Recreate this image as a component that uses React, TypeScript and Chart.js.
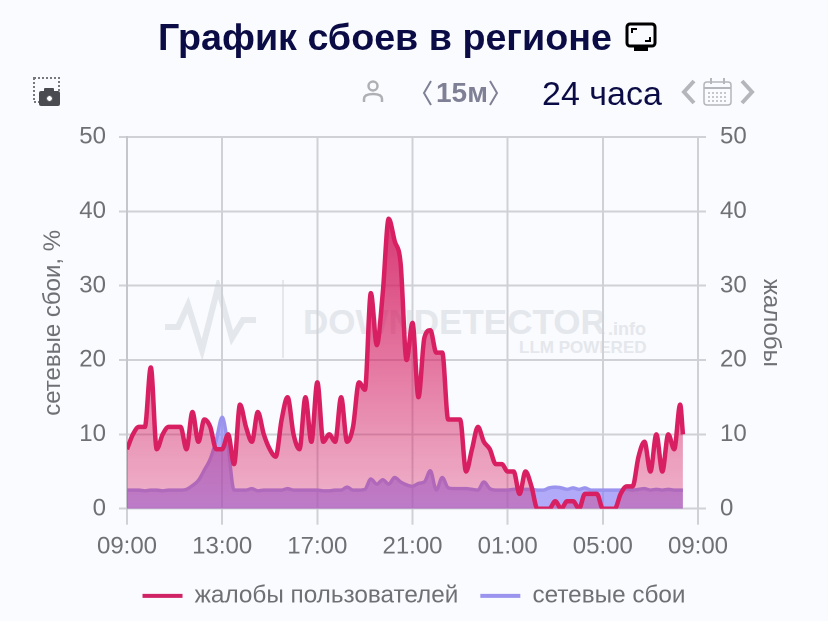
import React, { useEffect, useRef } from "react";
import { Chart, registerables } from "chart.js";

Chart.register(...registerables);

const minutes = [0,15,30,45,60,75,90,105,120,135,150,165,180,195,210,225,240,255,270,285,300,315,330,345,360,375,390,405,420,435,450,465,480,495,510,525,540,555,570,585,600,615,630,645,660,675,690,705,720,735,750,765,780,795,810,825,840,855,870,885,900,915,930,945,960,975,990,1005,1020,1035,1050,1065,1080,1095,1110,1125,1140,1155,1170,1185,1200,1215,1230,1245,1260,1275,1290,1305,1320,1335,1350,1365,1380,1395,1402];
const complaints = [8,10,11,11,19,8,10,11,11,11,8,13,9,12,11,8,8,10,6,14,11,9,13,10,8,7,12,15,10,8,15,9,17,9,10,9,15,9,11,17,16,29,22,29,39,36,33,20,25,15,23,24,21,21,12,12,12,5,8,11,9,8,6,6,5,5,2,5,3,0,0,0,1,0,1,1,0,2,2,2,0,0,0,2,3,3,7,9,5,10,5,10,8,14,10];
const outages = [2.5,2.5,2.5,2.4,2.5,2.5,2.4,2.5,2.5,2.5,2.6,3.1,3.8,5.2,6.7,9.2,12.3,8.3,2.5,2.5,2.5,2.7,2.4,2.5,2.5,2.5,2.5,2.7,2.5,2.5,2.5,2.5,2.5,2.4,2.4,2.5,2.5,2.9,2.5,2.5,2.6,4,3.3,3.9,3.3,4.2,3.6,3.2,3,3.4,3.6,5.1,2.5,4.2,2.8,2.7,2.7,2.7,2.6,2.5,3.6,2.7,2.5,2.5,2.5,2.6,2.6,2.6,2.6,2.5,2.5,2.8,2.9,2.8,2.6,2.8,2.6,2.8,2.5,2.5,2.5,2.5,2.5,2.5,2.6,2.5,2.6,2.7,2.5,2.6,2.5,2.6,2.5,2.5,2.5];
const hourLabels = ["09:00","13:00","17:00","21:00","01:00","05:00","09:00"];
const seriesNames = ["жалобы пользователей","сетевые сбои"];

const FONT = '"Liberation Sans", Arial, sans-serif';
const GREY = "#6f7075";
const RED = "#d81f62";
const BLUE = "#9a94ee";

export default function App() {
  const ref = useRef<HTMLCanvasElement>(null);
  useEffect(() => {
    const chart = new Chart(ref.current as HTMLCanvasElement, {
      type: "line",
      data: {
        datasets: [
          {
            label: seriesNames[0],
            data: minutes.map((m, i) => ({ x: m, y: complaints[i] })),
            yAxisID: "yR",
            borderColor: RED,
            borderWidth: 4.5,
            pointRadius: 0,
            cubicInterpolationMode: "monotone",
            fill: "origin",
            order: 1,
            backgroundColor: (c: any) => {
              const a = c.chart.chartArea;
              if (!a) return "rgba(216,31,98,.4)";
              const g = c.chart.ctx.createLinearGradient(0, a.top, 0, a.bottom);
              g.addColorStop(0, "rgba(208,20,90,1)");
              g.addColorStop(1, "rgba(216,31,98,.32)");
              return g;
            },
          },
          {
            label: seriesNames[1],
            data: minutes.map((m, i) => ({ x: m, y: outages[i] })),
            yAxisID: "yL",
            borderColor: BLUE,
            borderWidth: 3.5,
            pointRadius: 0,
            cubicInterpolationMode: "monotone",
            fill: "origin",
            order: 2,
            backgroundColor: "rgba(130,120,245,.62)",
          },
        ],
      },
      options: {
        animation: false,
        responsive: false,
        devicePixelRatio: 2,
        layout: { padding: { top: 137, bottom: 3, left: 0, right: 0 } },
        plugins: {
          tooltip: { enabled: false },
          legend: {
            position: "bottom",
            labels: {
              boxWidth: 40,
              boxHeight: 4,
              padding: 22,
              color: GREY,
              font: { family: FONT, size: 24.3 },
              generateLabels: () =>
                seriesNames.map((t, i) => ({
                  text: t,
                  fillStyle: i === 0 ? "#cf2365" : BLUE,
                  strokeStyle: "transparent",
                  lineWidth: 0,
                  fontColor: GREY,
                  datasetIndex: i,
                })),
            },
          },
        },
        scales: {
          x: {
            type: "linear",
            min: 0,
            max: 1440,
            afterBuildTicks: (s: any) => {
              s.ticks = hourLabels.map((_, i) => ({ value: i * 240 }));
            },
            afterFit: (s: any) => { s.height = 53; },
            grid: { color: "#cfd1d7", lineWidth: 2, tickLength: 16 },
            border: { color: "#cfd1d7", width: 2 },
            ticks: {
              color: GREY,
              font: { family: FONT, size: 24 },
              maxRotation: 0,
              autoSkip: false,
              padding: 8,
              callback: (_: any, i: number) => hourLabels[i],
            },
          },
          yL: {
            position: "left",
            min: 0,
            max: 50,
            afterFit: (s: any) => { s.width = 127; },
            title: { display: true, text: "сетевые сбои, %", color: GREY, font: { family: FONT, size: 24 }, padding: { top: 39, bottom: 0 } },
            grid: { color: "#cfd1d7", lineWidth: 2, tickLength: 8 },
            border: { color: "#c4c6cc", width: 2 },
            ticks: { stepSize: 10, color: GREY, font: { family: FONT, size: 24 }, padding: 13 },
          },
          yR: {
            position: "right",
            min: 0,
            max: 50,
            afterFit: (s: any) => { s.width = 130; },
            title: { display: true, text: "жалобы", color: GREY, font: { family: FONT, size: 24 }, padding: { top: 43, bottom: 0 } },
            grid: { drawOnChartArea: false, color: "#cfd1d7", lineWidth: 2, tickLength: 8 },
            border: { color: "#cfd1d7", width: 2 },
            ticks: { stepSize: 10, color: GREY, font: { family: FONT, size: 24 }, padding: 14 },
          },
        },
      },
    } as any);
    return () => chart.destroy();
  }, []);

  const abs = (s: React.CSSProperties): React.CSSProperties => ({ position: "absolute", whiteSpace: "nowrap", fontFamily: FONT, ...s });

  return (
    <div style={{ position: "fixed", left: 0, top: 0, width: 828, height: 621, background: "#fafbfe", overflow: "hidden" }}>
      <svg style={{ position: "absolute", left: 160, top: 280 }} width={130} height={85}>
        <polyline points="5,47 18,47 28,25 42,70 58,7 72,58 83,40 96,40" fill="none" stroke="#e4e7ec" strokeWidth={6} />
        <line x1={123} y1={0} x2={123} y2={78} stroke="#e4e7ec" strokeWidth={2} />
      </svg>
      <div style={abs({ left: 303, top: 302, fontSize: 35, fontWeight: 700, color: "#e4e7ec" })}>DOWNDETECTOR</div>
      <div style={abs({ left: 608, top: 319, fontSize: 18, fontWeight: 700, color: "#e4e7ec" })}>.info</div>
      <div style={abs({ left: 519, top: 338, fontSize: 17, fontWeight: 700, color: "#e4e7ec" })}>LLM POWERED</div>

      <canvas ref={ref} width={828} height={621} style={{ position: "absolute", left: 0, top: 0, width: 828, height: 621 }} />

      <div style={abs({ left: 158, top: 16, fontSize: 37.7, fontWeight: 700, color: "#0b0c45" })}>График сбоев в регионе</div>
      <svg style={{ position: "absolute", left: 625, top: 22 }} width={32} height={32}>
        <rect x={2} y={2} width={28} height={22} rx={3} fill="none" stroke="#000" strokeWidth={3} />
        <rect x={9} y={25} width={14} height={4} fill="#000" />
        <path d="M7 11V7H12M25 15V19H20" fill="none" stroke="#000" strokeWidth={2} />
      </svg>

      <svg style={{ position: "absolute", left: 30, top: 76 }} width={34} height={32}>
        <rect x={4} y={2} width={25} height={24} fill="none" stroke="#77787d" strokeWidth={2} strokeDasharray="2 2" />
        <rect x={9} y={15} width={21} height={15} rx={2} fill="#4a4b50" />
        <rect x={14} y={12} width={10} height={5} rx={1} fill="#4a4b50" />
        <circle cx={19.5} cy={22.5} r={3} fill="#fff" stroke="#4a4b50" />
      </svg>

      <svg style={{ position: "absolute", left: 360, top: 78 }} width={26} height={28}>
        <circle cx={13} cy={8} r={4.5} fill="none" stroke="#aeb0b6" strokeWidth={2.5} />
        <path d="M4 24V21C4 17 8 16 13 16C18 16 22 17 22 21V24" fill="none" stroke="#aeb0b6" strokeWidth={2.5} />
      </svg>

      <svg style={{ position: "absolute", left: 420, top: 78 }} width={16} height={30}>
        <path d="M11 3L4 15L11 27" fill="none" stroke="#7f8095" strokeWidth={2} />
      </svg>
      <div style={abs({ left: 436, top: 77, fontSize: 28, fontWeight: 700, color: "#7f8095" })}>15м</div>
      <svg style={{ position: "absolute", left: 486, top: 78 }} width={16} height={30}>
        <path d="M4 3L11 15L4 27" fill="none" stroke="#7f8095" strokeWidth={2} />
      </svg>

      <div style={abs({ left: 542, top: 74, fontSize: 34, color: "#0b0c45" })}>24 часа</div>

      <svg style={{ position: "absolute", left: 680, top: 76 }} width={76} height={32}>
        <path d="M14 5L4 16L14 27" fill="none" stroke="#b5b6bb" strokeWidth={4} />
        <path d="M62 5L72 16L62 27" fill="none" stroke="#b5b6bb" strokeWidth={4} />
        <rect x={24} y={6} width={27} height={23} rx={3} fill="none" stroke="#b5b6bb" strokeWidth={1.5} />
        <line x1={24} y1={12} x2={51} y2={12} stroke="#b5b6bb" strokeWidth={2} />
        <path d="M31 2V8M44 2V8" stroke="#b5b6bb" strokeWidth={2} />
        <path d="M28 17H48M28 21H48M28 25H48" stroke="#b5b6bb" strokeWidth={1.5} strokeDasharray="2 2" />
      </svg>
    </div>
  );
}
